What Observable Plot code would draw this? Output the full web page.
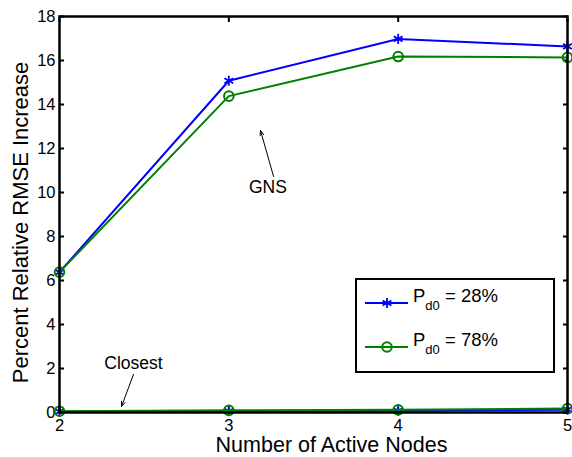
<!DOCTYPE html>
<html>
<head>
<meta charset="utf-8">
<script src="https://cdn.jsdelivr.net/npm/d3@7"></script>
<script src="https://cdn.jsdelivr.net/npm/@observablehq/plot@0.6"></script>
<style>
  body { margin: 0; background: #fff; }
  #chart { position: relative; width: 572px; height: 457px; overflow: hidden; font-family: "Liberation Sans", Arial, sans-serif; }
  #legend { position: absolute; left: 0; top: 0; pointer-events: none; }
</style>
</head>
<body>
<div id="chart"></div>
<script>
// Number of active nodes on the x axis
const nodes = [2, 3, 4, 5];
// Percent relative RMSE increase, GNS selection
const gnsP28 = [6.38, 15.08, 16.98, 16.64];
const gnsP78 = [6.38, 14.38, 16.18, 16.14];
// Percent relative RMSE increase, closest-node selection
const closestP28 = [0.04, 0.06, 0.08, 0.13];
const closestP78 = [0.06, 0.10, 0.12, 0.18];
// Series labels (P_d0 values) and colours
const seriesLabels = ["28%", "78%"];
const seriesColors = ["#0000ff", "#008000"];
// Axis ticks
const xTicks = [2, 3, 4, 5];
const yTicks = [0, 2, 4, 6, 8, 10, 12, 14, 16, 18];
// Text annotations with arrows: [label, text x, text y, arrow from x, from y, to x, to y]
const notes = [
  ["GNS", 3.231, 10.24, 3.264, 10.73, 3.187, 12.82],
  ["Closest", 2.437, 2.24, 2.437, 1.73, 2.366, 0.27]
];

function rowsFor(values, group, s) {
  return nodes.map((n, i) => ({ nodes: n, value: values[i], group, series: s }));
}
const blueRows = [...rowsFor(gnsP28, "GNS", 0), ...rowsFor(closestP28, "Closest", 0)];
const greenRows = [...rowsFor(gnsP78, "GNS", 1), ...rowsFor(closestP78, "Closest", 1)];

const noteRows = notes.map(([label, tx, ty, x1, y1, x2, y2]) => ({ label, tx, ty, x1, y1, x2, y2 }));

const W = 572, H = 457;
const M = { left: 59, right: 5, top: 16, bottom: 45 };

const plot = Plot.plot({
  width: W,
  height: H,
  marginLeft: M.left,
  marginRight: M.right,
  marginTop: M.top,
  marginBottom: M.bottom,
  style: { fontFamily: "Liberation Sans, Arial, sans-serif", fontSize: "16px", background: "#fff", color: "#000", overflow: "visible" },
  x: { domain: [2, 5] },
  y: { domain: [0, 18] },
  marks: [
    // inward ticks on all four sides
    Plot.axisX({ ticks: xTicks, tickSize: -5, tickPadding: 12, tickFormat: d3.format("d"), label: null, fontSize: 16.5, strokeWidth: 2 }),
    Plot.axisX({ anchor: "top", ticks: xTicks, tickSize: -5, tickFormat: () => "", label: null, strokeWidth: 2 }),
    Plot.axisY({ ticks: yTicks, tickSize: -5, tickPadding: 9, tickFormat: d3.format("d"), label: null, fontSize: 16.5, strokeWidth: 2 }),
    Plot.axisY({ anchor: "right", ticks: yTicks, tickSize: -5, tickFormat: () => "", label: null, strokeWidth: 2 }),
    // axis titles
    Plot.text(["Percent Relative RMSE Increase"], { text: d => d, frameAnchor: "left", textAnchor: "middle", rotate: -90, dx: -39, dy: 8, fontSize: 22 }),
    Plot.text(["Number of Active Nodes"], { text: d => d, frameAnchor: "bottom", textAnchor: "middle", lineAnchor: "bottom", dy: 39, dx: 18, fontSize: 21.5 }),
    // series
    Plot.line(blueRows, { x: "nodes", y: "value", z: "group", stroke: seriesColors[0], strokeWidth: 2 }),
    Plot.dot(blueRows, { x: "nodes", y: "value", symbol: "asterisk", r: 4.8, stroke: seriesColors[0], strokeWidth: 1.8 }),
    Plot.line(greenRows, { x: "nodes", y: "value", z: "group", stroke: seriesColors[1], strokeWidth: 2 }),
    Plot.dot(greenRows, { x: "nodes", y: "value", r: 4.8, stroke: seriesColors[1], strokeWidth: 2, fill: "none" }),
    // annotations
    Plot.arrow(noteRows, { x1: "x1", y1: "y1", x2: "x2", y2: "y2", stroke: "#000", strokeWidth: 1, headLength: 8, headAngle: 40 }),
    Plot.text(noteRows, { x: "tx", y: "ty", text: "label", fontSize: 17.5 }),
    Plot.frame({ stroke: "#000", strokeWidth: 2.5 })
  ]
});

const chart = document.getElementById("chart");
chart.appendChild(plot);

// legend box inside the lower-right of the axes
const leg = d3.select(chart).append("svg")
  .attr("id", "legend")
  .attr("width", W).attr("height", H);
const box = { x: 356, y: 279, w: 198, h: 93 };
leg.append("rect")
  .attr("x", box.x).attr("y", box.y).attr("width", box.w).attr("height", box.h)
  .attr("fill", "#fff").attr("stroke", "#000").attr("stroke-width", 2);
const symAst = d3.symbol(d3.symbolAsterisk, 4.8 * 4.8 * Math.PI)();
seriesLabels.forEach((lab, i) => {
  const cy = box.y + 24 + i * 44;
  const g = leg.append("g");
  g.append("line").attr("x1", box.x + 9).attr("x2", box.x + 52).attr("y1", cy).attr("y2", cy)
    .attr("stroke", seriesColors[i]).attr("stroke-width", 2);
  if (i === 0) {
    g.append("path").attr("d", symAst).attr("transform", `translate(${box.x + 31},${cy})`)
      .attr("stroke", seriesColors[i]).attr("stroke-width", 1.8).attr("fill", "none");
  } else {
    g.append("circle").attr("cx", box.x + 31).attr("cy", cy).attr("r", 4.8)
      .attr("stroke", seriesColors[i]).attr("stroke-width", 2).attr("fill", "none");
  }
  const t = g.append("text").attr("x", box.x + 57).attr("y", cy - 1)
    .attr("font-family", "Liberation Sans, Arial, sans-serif").attr("font-size", 18.5);
  t.append("tspan").text("P");
  t.append("tspan").attr("font-size", 13).attr("dy", 8).text("d0");
  t.append("tspan").attr("dy", -8).text(" = " + lab);
});
</script>
</body>
</html>
